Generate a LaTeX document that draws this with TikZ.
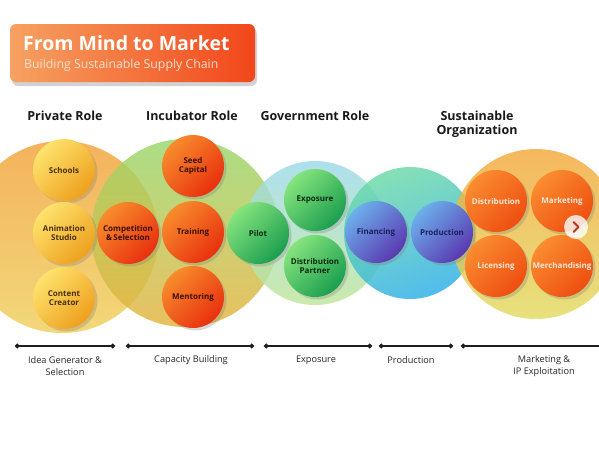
\documentclass[tikz,border=0pt]{standalone}
\usepackage{fontspec}
\setmainfont{Open Sans}
\usetikzlibrary{shadows,arrows.meta}
\definecolor{titleL}{HTML}{F6A262}
\definecolor{titleR}{HTML}{F2461A}
\definecolor{subT}{HTML}{FDE2CC}
\definecolor{yA}{HTML}{FDE36C}
\definecolor{yB}{HTML}{EFA01E}
\definecolor{yT}{HTML}{4A3010}
\definecolor{rA}{HTML}{F88C2C}
\definecolor{rB}{HTML}{E8300E}
\definecolor{rT}{HTML}{3A1005}
\definecolor{gA}{HTML}{86E47E}
\definecolor{gB}{HTML}{1A9E4E}
\definecolor{gT}{HTML}{0A2A10}
\definecolor{bA}{HTML}{6CB0EC}
\definecolor{bB}{HTML}{5A38B0}
\definecolor{bT}{HTML}{1A2060}
\definecolor{oA}{HTML}{FA8C30}
\definecolor{oB}{HTML}{EE4E10}
\definecolor{oT}{HTML}{FDE8D8}
\definecolor{pA}{HTML}{F2A23A}
\definecolor{pB}{HTML}{F0D05C}
\definecolor{iA}{HTML}{98D86C}
\definecolor{iB}{HTML}{E6B33C}
\definecolor{vA}{HTML}{9CDAEA}
\definecolor{vB}{HTML}{C0E69A}
\definecolor{wA}{HTML}{6CDAA6}
\definecolor{wB}{HTML}{2AAEE8}
\definecolor{sA}{HTML}{F4A83A}
\definecolor{sB}{HTML}{E2DC62}
\definecolor{lineC}{HTML}{1E1E1E}
\definecolor{navC}{HTML}{B03A2A}
\tikzset{
  big/.style={circle, inner sep=0pt, minimum size=#1, fill opacity=0.82, shading angle=40},
  ball/.style={circle, inner sep=0pt, minimum size=62pt, align=center,
    font=\bfseries\fontsize{8}{9.2}\selectfont,
    drop shadow={opacity=0.3, shadow xshift=2.5pt, shadow yshift=-2.5pt}},
  yball/.style={ball, top color=yA, bottom color=yB, shading angle=45, text=yT},
  rball/.style={ball, top color=rA, bottom color=rB, shading angle=45, text=rT},
  gball/.style={ball, top color=gA, bottom color=gB, shading angle=45, text=gT},
  bball/.style={ball, top color=bA, bottom color=bB, shading angle=45, text=bT},
  oball/.style={ball, top color=oA, bottom color=oB, shading angle=45, text=oT},
  head/.style={font=\bfseries\fontsize{12.5}{14.5}\selectfont, text=black!90, align=center, inner sep=0pt},
  foot/.style={font=\fontsize{9.2}{11.5}\selectfont, text=black!85, align=center, inner sep=0pt},
  tl/.style={line width=2pt, draw=lineC, {Circle[length=4.5pt]}-{Circle[length=4.5pt]}},
}
\begin{document}
\begin{tikzpicture}[x=1pt,y=-1pt]
\useasboundingbox[fill=white] (0,0) rectangle (599,453);

% title box
\node[rounded corners=6pt, minimum width=245pt, minimum height=58pt, inner sep=0pt,
  left color=titleL, right color=titleR,
  drop shadow={opacity=0.35, shadow xshift=2pt, shadow yshift=-4pt}] (titlebox) at (132.5,53) {};
\node[anchor=west, inner sep=0pt, text=white, font=\bfseries\fontsize{19.5}{22}\selectfont] (title) at (23,43) {From Mind to Market};
\node[anchor=west, inner sep=0pt, text=subT, font=\fontsize{12.3}{14}\selectfont] (subtitle) at (24,65) {Building Sustainable Supply Chain};

% headers
\node[head] (h1) at (65,116) {Private Role};
\node[head] (h2) at (192,116) {Incubator Role};
\node[head] (h3) at (315,116) {Government Role};
\node[head] (h4) at (477,124) {Sustainable\\Organization};

% big circles
\node[big=192pt, top color=pA, bottom color=pB] (Cpriv) at (62,237) {};
\node[big=188pt, top color=iA, bottom color=iB] (Cinc) at (185,233) {};
\node[big=144pt, top color=vA, bottom color=vB, shading angle=0] (Cgov) at (315,233) {};
\node[big=132pt, top color=wA, bottom color=wB, shading angle=20] (Cprod) at (410,233) {};
\node[big=170pt, top color=sA, bottom color=sB] (Csus) at (536,234) {};

% small circles
\node[yball] (schools) at (64,170) {Schools};
\node[yball] (anim) at (64,233) {Animation\\Studio};
\node[yball] (content) at (64,298) {Content\\Creator};
\node[rball] (comp) at (128,233) {Competition\\\&\,Selection};
\node[rball] (seed) at (193,166) {Seed\\Capital};
\node[rball] (train) at (193,232) {Training};
\node[rball] (ment) at (193,297) {Mentoring};
\node[gball] (pilot) at (258,233) {Pilot};
\node[gball] (expo) at (315,200) {Exposure};
\node[gball] (distp) at (315,266) {Distribution\\Partner};
\node[bball] (fin) at (376,232) {Financing};
\node[bball] (prod) at (442,232) {Production};
\node[oball] (dist) at (496,201) {Distribution};
\node[oball] (mkt) at (562,201) {Marketing};
\node[oball] (lic) at (496,266) {Licensing};
\node[oball] (merch) at (562,266) {Merchandising};

% nav button
\node[circle, fill=white, fill opacity=0.8, minimum size=24pt, inner sep=0pt] (nav) at (576,227) {};
\draw[navC, line width=2pt, line cap=round, line join=round] (nav.center) ++(-2.5,-5) -- ++(5,5) -- ++(-5,5);

% timeline
\coordinate (a1) at (15,346); \coordinate (a2) at (115,346);
\coordinate (b1) at (126,346); \coordinate (b2) at (254,346);
\coordinate (c1) at (264,346); \coordinate (c2) at (372,346);
\coordinate (d1) at (379,346); \coordinate (d2) at (453,346);
\coordinate (e1) at (461,346); \coordinate (e2) at (599,346);
\draw[tl] (a1) -- (a2);
\draw[tl] (b1) -- (b2);
\draw[tl] (c1) -- (c2);
\draw[tl] (d1) -- (d2);
\draw[line width=2pt, draw=lineC, {Circle[length=4.5pt]}-] (e1) -- (e2);

\node[foot] (f1) at (65,366) {Idea Generator \&\\Selection};
\node[foot] (f2) at (191,360) {Capacity Building};
\node[foot] (f3) at (316,360) {Exposure};
\node[foot] (f4) at (411,360) {Production};
\node[foot] (f5) at (544,366) {Marketing \&\\IP Exploitation};
\end{tikzpicture}
\end{document}
